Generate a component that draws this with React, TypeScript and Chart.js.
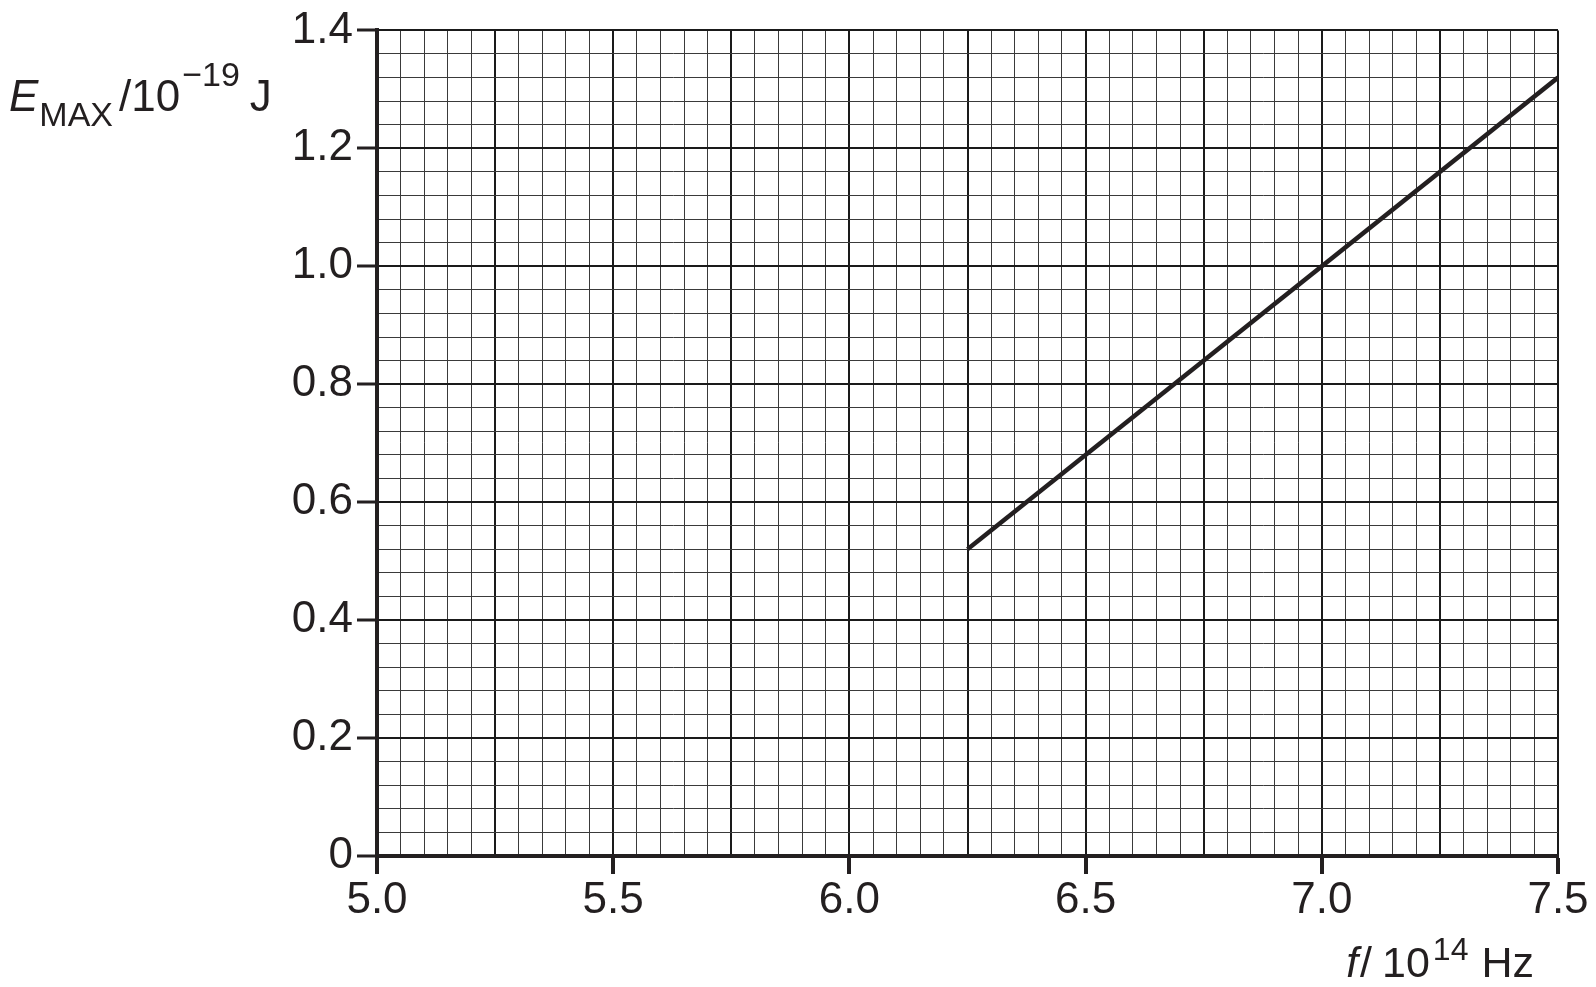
import { useEffect, useRef } from "react"
import { Chart, registerables } from "chart.js"

Chart.register(...registerables)

// data
const lineF = [6.25, 7.5]
const lineE = [0.52, 1.32]

const xTickValues = [5.0, 5.5, 6.0, 6.5, 7.0, 7.5]
const xTickLabels = ["5.0", "5.5", "6.0", "6.5", "7.0", "7.5"]
const yTickValues = [0, 0.2, 0.4, 0.6, 0.8, 1.0, 1.2, 1.4]
const yTickLabels = ["0", "0.2", "0.4", "0.6", "0.8", "1.0", "1.2", "1.4"]

const INK = "#231f20"
const FONT = "'Liberation Sans', Arial, sans-serif"

const near = (a: number, b: number) => Math.abs(a - b) < 1e-6
const isStep = (v: number, step: number) => near(v / step, Math.round(v / step))
const labelFor = (v: number, values: number[], labels: string[]) => {
    const i = values.findIndex((m) => near(m, v))
    return i >= 0 ? labels[i] : ""
}

type Run = { text: string; size: number; italic?: boolean; dy?: number; gap?: number }

const yTitle: Run[] = [
    { text: "E", size: 44, italic: true },
    { text: "MAX", size: 34, dy: 15, gap: 1 },
    { text: "/10", size: 44, gap: 6 },
    { text: "\u221219", size: 34, dy: -25, gap: 2 },
    { text: "J", size: 44, gap: 10 },
]

const xTitle: Run[] = [
    { text: "f", size: 43, italic: true },
    { text: "/", size: 43, gap: 2 },
    { text: "10", size: 43, gap: 10 },
    { text: "14", size: 32, dy: -17, gap: 3 },
    { text: "Hz", size: 43, gap: 13 },
]

function drawRuns(ctx: CanvasRenderingContext2D, x: number, y: number, runs: Run[]) {
    let cx = x
    for (const r of runs) {
        cx += r.gap ?? 0
        ctx.font = `${r.italic ? "italic " : ""}${r.size}px ${FONT}`
        ctx.fillText(r.text, cx, y + (r.dy ?? 0))
        cx += ctx.measureText(r.text).width
    }
}

function runsWidth(ctx: CanvasRenderingContext2D, runs: Run[]) {
    let w = 0
    for (const r of runs) {
        ctx.font = `${r.italic ? "italic " : ""}${r.size}px ${FONT}`
        w += (r.gap ?? 0) + ctx.measureText(r.text).width
    }
    return w
}

const axisTitles = {
    id: "axisTitles",
    afterDraw(chart: Chart) {
        const { ctx, chartArea } = chart
        ctx.save()
        ctx.fillStyle = INK
        ctx.textAlign = "left"
        ctx.textBaseline = "alphabetic"
        drawRuns(ctx, 9, chartArea.top + 81, yTitle)
        const w = runsWidth(ctx, xTitle)
        drawRuns(ctx, chartArea.right - 24 - w, chartArea.bottom + 121, xTitle)
        ctx.restore()
    },
}

function PhotoChart() {
    const chartRef = useRef<HTMLCanvasElement>(null)
    const chartInstance = useRef<Chart | null>(null)

    useEffect(() => {
        document.body.style.margin = "0"
        if (!chartRef.current) return
        const ctx = chartRef.current.getContext("2d")
        if (!ctx) return

        if (chartInstance.current) chartInstance.current.destroy()

        chartInstance.current = new Chart(ctx, {
            type: "scatter",
            data: {
                datasets: [
                    {
                        data: lineF.map((f, i) => ({ x: f, y: lineE[i] })),
                        showLine: true,
                        borderColor: INK,
                        borderWidth: 4.5,
                        pointRadius: 0,
                        borderCapStyle: "butt",
                    },
                ],
            },
            options: {
                responsive: false,
                animation: false,
                events: [],
                layout: { padding: { top: 29, right: 38, left: 0, bottom: 0 } },
                plugins: {
                    legend: { display: false },
                    tooltip: { enabled: false },
                },
                scales: {
                    x: {
                        type: "linear",
                        min: 5,
                        max: 7.5,
                        afterFit: (s: any) => {
                            s.height = 131
                        },
                        border: { display: true, color: INK, width: 4 },
                        grid: {
                            color: (c: any) => (isStep(c.tick.value, 0.25) ? "#1a1a1a" : "#3a3a3a"),
                            lineWidth: (c: any) => (isStep(c.tick.value, 0.25) ? 2 : 1),
                            tickLength: 18,
                            tickWidth: 4,
                            tickColor: (c: any) =>
                                labelFor(c.tick.value, xTickValues, xTickLabels) ? INK : "rgba(0,0,0,0)",
                        },
                        ticks: {
                            stepSize: 0.05,
                            maxTicksLimit: 100,
                            autoSkip: false,
                            maxRotation: 0,
                            minRotation: 0,
                            padding: 0,
                            color: INK,
                            font: { family: FONT, size: 44 },
                            callback: (v: any) => labelFor(Number(v), xTickValues, xTickLabels),
                        },
                    },
                    y: {
                        type: "linear",
                        min: 0,
                        max: 1.4,
                        afterFit: (s: any) => {
                            s.width = 377
                        },
                        border: { display: true, color: INK, width: 4 },
                        grid: {
                            color: (c: any) => (isStep(c.tick.value, 0.2) ? "#1a1a1a" : "#3a3a3a"),
                            lineWidth: (c: any) => (isStep(c.tick.value, 0.2) ? 2 : 1),
                            tickLength: 20,
                            tickWidth: 3,
                            tickColor: (c: any) =>
                                labelFor(c.tick.value, yTickValues, yTickLabels) ? INK : "rgba(0,0,0,0)",
                        },
                        ticks: {
                            stepSize: 0.04,
                            maxTicksLimit: 100,
                            autoSkip: false,
                            padding: 4,
                            color: INK,
                            font: { family: FONT, size: 44 },
                            callback: (v: any) => labelFor(Number(v), yTickValues, yTickLabels),
                        },
                    },
                },
            },
            plugins: [axisTitles],
        })

        return () => {
            if (chartInstance.current) {
                chartInstance.current.destroy()
                chartInstance.current = null
            }
        }
    }, [])

    return (
        <div style={{ width: 1596, height: 987, background: "#fff" }}>
            <canvas ref={chartRef} width={1596} height={987}></canvas>
        </div>
    )
}

export default function App() {
    return <PhotoChart />
}
